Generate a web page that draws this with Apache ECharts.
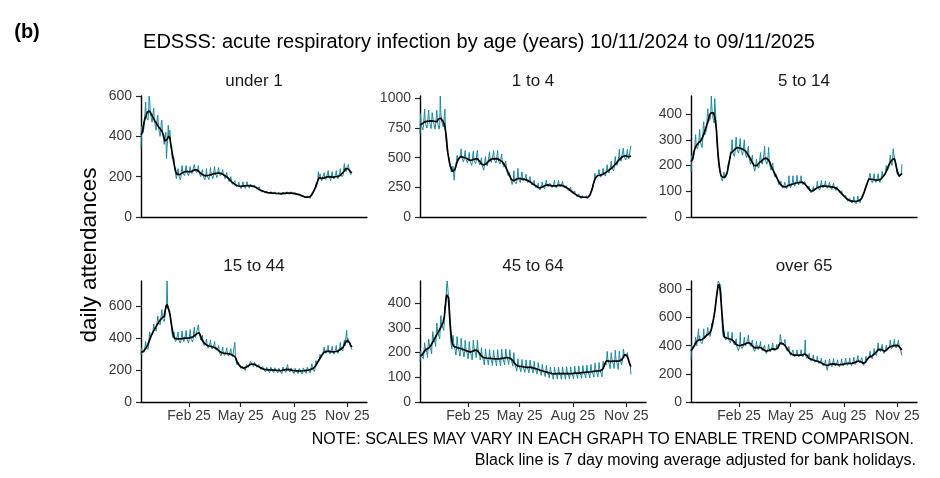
<!DOCTYPE html>
<html><head><meta charset="utf-8">
<script src="https://cdn.jsdelivr.net/npm/echarts@6/dist/echarts.min.js"></script>
<style>html,body{margin:0;padding:0;background:#fff}#c{width:940px;height:478px}</style>
</head><body><div id="c"></div>
<script>
// ---- data (daily attendances, one value per day from 10/11/2024 to 09/11/2025) ----
const startDate = '2024-11-10';
const panelTitles = ['under 1', '1 to 4', '5 to 14', '15 to 44', '45 to 64', 'over 65'];

const under1 = [
340,450,425,415,430,440,470, 525,570,500,490,495,480,510, 600,575,520,500,490,470,485, 520,540,480,465,450,430,445,
490,505,450,430,415,400,420, 470,480,420,400,385,360,380, 400,420,290,350,380,455,400, 420,430,370,340,320,290,290,
300,290,250,225,205,190,195, 225,240,210,200,195,185,200, 240,255,225,215,210,205,215, 245,255,230,220,215,205,215,
240,250,225,220,215,210,220, 250,260,240,230,225,220,230, 240,255,225,215,210,200,205, 225,235,210,200,195,185,195,
215,240,205,200,195,185,200, 220,245,210,205,200,190,205, 230,250,215,210,205,195,210, 230,245,220,215,205,200,210,
225,235,210,205,200,190,200, 210,220,195,190,185,175,180, 190,200,175,168,162,155,160, 170,180,160,155,150,145,150,
160,172,152,148,145,140,145, 162,175,155,150,146,142,148, 165,175,157,152,148,143,150, 163,172,155,150,146,141,148,
158,165,148,143,138,133,138, 142,150,135,131,128,123,128, 133,140,126,123,120,115,118, 127,134,121,118,115,111,116,
126,133,120,116,113,109,115, 124,131,118,114,111,107,112, 122,130,116,113,110,106,112, 124,132,118,115,112,108,114,
125,134,120,116,113,109,115, 125,133,119,115,112,108,114, 121,128,115,111,108,104,109, 115,122,108,105,102,98,102,
106,112,100,97,94,90,94, 105,110,99,96,94,92,98, 110,120,112,118,125,132,140, 150,160,150,160,170,225,190,
205,215,190,185,180,175,185, 210,220,195,190,185,180,190, 215,230,200,195,190,180,190, 212,225,198,192,188,180,190,
215,230,200,195,190,182,192, 220,240,210,205,200,195,210, 245,265,235,230,225,230,250, 250,260,235,225,218,210,218,
225];

const age1to4 = [
700,870,780,760,750,735,770, 840,910,810,780,770,750,780, 850,900,815,790,775,745,790, 880,880,810,785,770,740,785,
840,900,810,780,765,740,775, 1020,880,820,800,785,760,790, 850,910,730,650,600,560,540, 520,500,440,420,400,380,390,
410,430,370,310,380,400,440, 470,520,470,470,480,470,500, 545,575,510,490,480,465,485, 530,560,500,480,470,455,470,
510,545,480,460,450,435,455, 520,555,490,470,460,450,470, 530,560,500,470,455,440,450, 470,500,440,420,410,395,410,
480,510,450,435,430,420,440, 515,550,485,470,460,450,470, 525,560,495,475,465,455,475, 525,560,490,470,460,445,460,
500,530,465,445,435,420,435, 450,470,410,385,370,350,360, 375,390,335,310,295,275,285, 310,390,300,290,285,280,300,
345,410,330,310,300,290,305, 345,380,325,305,300,290,300, 335,360,315,300,290,280,290, 320,340,295,280,270,260,270,
290,310,270,255,248,238,245, 265,285,245,235,228,218,228, 275,295,260,250,245,238,250, 290,310,275,262,255,248,258,
285,300,268,255,248,240,250, 278,310,262,250,245,238,250, 285,310,272,260,255,245,258, 282,300,265,252,245,235,245,
265,280,245,232,225,215,222, 235,250,218,207,200,192,198, 210,220,192,183,177,170,175, 185,195,172,165,160,155,160,
180,190,168,162,158,152,158, 178,190,160,145,150,165,185, 195,215,215,230,245,260,285, 330,370,330,320,330,340,350,
370,400,355,340,335,325,340, 380,410,365,355,350,345,360, 405,440,390,380,370,365,385, 430,470,415,405,400,390,410,
470,510,455,440,435,425,445, 510,570,490,475,470,460,480, 560,580,520,500,490,480,500, 545,570,510,490,480,475,500,
600];

const age5to14 = [
175,240,220,225,230,235,250, 290,320,275,270,265,260,280, 310,340,295,285,280,270,290, 345,370,330,320,325,320,340,
390,420,370,365,375,380,400, 470,430,395,385,375,365,460, 420,380,330,290,250,220,200, 185,190,165,155,150,140,145,
160,175,150,148,145,150,165, 180,205,200,210,225,235,250, 270,300,255,245,240,235,255, 290,310,270,260,255,248,260,
285,305,265,255,250,240,255, 280,300,260,245,238,230,240, 260,275,235,222,215,205,215, 230,240,205,195,188,178,185,
205,225,200,195,195,190,205, 230,250,215,208,205,198,212, 245,275,228,218,212,205,220, 240,270,215,200,192,182,190,
200,210,180,170,163,155,160, 165,172,148,138,132,125,130, 132,140,122,116,112,106,110, 125,135,118,113,110,104,110,
130,160,125,118,114,110,118, 135,160,130,124,120,116,125, 140,162,133,128,124,120,130, 145,160,136,130,126,122,130,
138,145,125,118,114,108,112, 115,120,104,98,94,90,95, 105,118,104,102,102,100,108, 120,140,115,110,108,104,112,
128,142,121,116,113,108,116, 128,140,120,115,112,108,115, 126,135,118,114,111,106,113, 124,132,115,111,108,103,110,
118,122,106,100,96,90,94, 98,102,88,83,80,75,78, 80,84,72,68,65,61,64, 68,72,62,59,57,54,57,
65,80,60,56,54,51,55, 68,82,64,60,58,55,60, 72,82,78,82,88,95,105, 110,125,122,128,135,140,150,
160,170,150,142,138,132,140, 155,168,145,138,134,128,136, 155,168,145,138,134,130,138, 162,178,155,148,150,152,165,
180,200,180,180,185,190,205, 220,240,212,205,200,198,265, 245,250,220,210,200,180,165, 160,175,155,150,152,158,165,
205];

const age15to44 = [
295,340,312,305,300,298,315, 350,380,345,335,335,330,350, 400,440,410,400,405,405,425, 455,490,460,450,450,445,470,
505,540,500,490,490,485,510, 545,580,535,520,515,505,525, 560,610,590,760,610,580,580, 580,590,540,500,460,420,405,
420,440,395,385,380,370,385, 420,440,398,385,380,370,385, 420,445,400,388,380,372,390, 425,450,402,388,382,372,390,
430,455,405,392,386,376,395, 440,470,420,405,400,395,415, 470,485,445,430,410,390,395, 400,420,375,365,355,345,355,
375,395,355,345,338,328,340, 370,390,350,338,332,322,335, 360,380,340,330,325,315,328, 340,355,318,305,300,290,300,
325,345,308,298,292,285,295, 320,340,305,295,288,280,292, 318,335,300,290,284,276,285, 290,375,270,255,245,232,238,
250,258,228,218,212,205,210, 225,235,212,205,203,198,210, 235,245,225,218,218,215,230, 255,265,240,232,228,222,235,
250,258,232,222,218,210,218, 235,245,218,208,204,196,202, 222,232,206,198,194,188,196, 218,228,202,195,190,184,193,
218,228,202,195,190,184,193, 215,226,200,192,188,182,190, 212,224,197,190,185,178,188, 220,232,204,196,192,185,195,
222,235,206,198,194,188,197, 213,225,198,190,186,178,188, 212,224,196,189,184,178,187, 210,222,195,187,183,176,185,
214,226,198,190,186,180,188, 218,230,202,194,190,183,193, 225,240,210,202,198,192,205, 240,260,240,238,240,245,262,
275,300,280,278,282,285,305, 320,345,318,308,305,298,312, 335,355,320,308,302,295,308, 332,350,318,306,300,294,306,
335,355,320,310,305,296,308, 345,375,335,325,325,320,340, 365,390,352,345,350,450,370, 400,410,380,365,355,345,350,
330];

const age45to64 = [
165,205,195,185,185,180,175, 210,240,225,210,205,200,180, 225,255,235,222,218,210,195, 245,285,265,250,245,240,225,
275,320,295,280,275,265,255, 305,350,325,310,310,305,290, 330,390,380,420,470,490,460, 430,420,380,300,250,230,215,
220,270,240,225,215,205,190, 215,265,235,220,212,200,185, 212,258,230,215,208,198,182, 205,250,222,208,200,190,175,
200,245,218,202,195,185,170, 205,250,225,210,203,195,180, 208,250,222,205,195,185,170, 180,220,195,180,175,165,150,
178,215,192,178,172,163,150, 176,212,190,176,170,162,148, 174,210,188,174,168,160,146, 175,212,188,175,168,160,147,
176,213,190,176,170,162,150, 180,215,195,180,174,165,152, 178,212,190,175,168,158,145, 165,200,165,150,143,135,125,
145,175,155,145,140,133,122, 143,172,152,143,138,130,120, 140,170,150,140,135,128,118, 140,170,150,140,135,128,118,
135,165,145,135,130,123,113, 130,160,140,130,125,118,108, 125,152,135,125,120,113,103, 120,148,130,120,115,108,98,
116,142,126,116,111,104,92, 115,140,124,115,110,103,93, 115,142,125,115,110,103,92, 115,142,125,115,110,103,92,
116,143,125,115,110,102,93, 115,142,124,115,110,103,94, 118,145,127,117,112,105,95, 118,146,128,118,113,106,96,
120,148,130,120,115,108,98, 122,150,131,121,116,108,98, 124,152,133,123,118,110,100, 126,158,136,125,120,112,102,
127,160,137,126,121,112,102, 130,165,145,140,150,160,150, 165,205,178,165,158,150,135, 165,200,178,165,158,150,136,
166,210,178,165,158,148,132, 168,205,180,167,160,150,145, 180,215,195,185,190,195,185, 190,200,180,170,160,155,145,
112];

const over65 = [
300,400,380,370,380,385,390, 420,460,420,400,405,400,520, 440,470,430,420,425,415,430, 460,520,450,440,450,450,470,
500,530,480,470,470,465,485, 520,560,540,560,590,610,640, 660,720,730,780,830,860,850, 860,850,830,760,640,540,480,
460,500,460,450,440,430,445, 470,500,450,435,430,420,440, 460,495,440,425,415,405,420, 420,450,400,385,375,365,380,
410,495,395,385,380,375,395, 430,460,415,400,395,390,405, 445,475,425,410,405,395,410, 410,440,390,375,368,360,372,
400,430,390,378,372,365,380, 405,430,385,372,365,358,370, 375,405,360,350,345,338,350, 380,410,370,360,355,350,365,
395,420,380,368,362,355,368, 380,410,375,370,375,385,400, 480,460,420,405,400,395,410, 420,445,395,380,372,362,370,
370,395,352,340,332,322,330, 345,370,335,325,320,312,322, 345,370,335,325,320,312,322, 345,372,336,326,320,313,323,
345,440,330,318,310,302,310, 320,345,310,298,292,285,292, 310,335,300,288,282,275,282, 302,325,292,280,274,268,275,
290,312,278,265,258,250,256, 275,300,265,252,225,240,248, 280,305,272,262,258,250,260, 285,310,275,262,256,248,258,
278,300,268,256,250,243,252, 280,305,272,260,255,248,258, 288,312,278,265,260,252,262, 288,312,278,265,258,250,262,
290,318,284,272,268,262,275, 305,330,295,282,278,272,285, 290,315,280,266,260,253,262, 295,325,295,290,295,300,315,
335,360,325,315,312,308,322, 350,380,345,335,335,330,350, 385,420,375,365,362,358,375, 385,410,365,352,345,338,350,
375,405,370,365,368,365,385, 410,440,395,380,380,375,395, 420,445,400,388,385,380,395, 420,440,400,388,382,378,395,
330];

const yTickValues = [
  [0, 200, 400, 600], [0, 250, 500, 750, 1000], [0, 100, 200, 300, 400],
  [0, 200, 400, 600], [0, 100, 200, 300, 400], [0, 200, 400, 600, 800]
];
const xTickDates = ['2025-02-01', '2025-05-01', '2025-08-01', '2025-11-01'];
const xTickLabels = ['Feb 25', 'May 25', 'Aug 25', 'Nov 25'];
const xAxisEndDate = '2025-12-05';

// ---- build ----
const DAY = 86400000;
const t0 = Date.parse(startDate);
const dayOf = s => Math.round((Date.parse(s) - t0) / DAY);
const xTickDays = xTickDates.map(dayOf);
const xEnd = dayOf(xAxisEndDate);
const dailySeries = [under1, age1to4, age5to14, age15to44, age45to64, over65];

// 7 day (centred) moving average of the daily counts
function movingAverage(arr) {
  return arr.map((_, i) => {
    let s = 0, n = 0;
    for (let j = i - 3; j <= i + 3; j++) if (j >= 0 && j < arr.length) { s += arr[j]; n++; }
    return s / n;
  });
}

const FONT = '"Liberation Sans", Arial, Helvetica, sans-serif';
const TEAL = '#1b8a9c';
const lefts = [141, 420, 691], tops = [96, 281], W = 226, H = 121;

const grid = [], xAxis = [], yAxis = [], series = [], graphic = [];
dailySeries.forEach((daily, i) => {
  const col = i % 3, row = Math.floor(i / 3), bottom = row === 1;
  grid.push({ left: lefts[col], top: tops[row], width: W, height: H });
  xAxis.push({
    type: 'value', gridIndex: i, min: 0, max: xEnd,
    axisLine: { show: true, onZero: false, lineStyle: { color: '#000', width: 1.4 } },
    axisTick: { show: bottom, length: 5, customValues: xTickDays, lineStyle: { color: '#222', width: 1.2 } },
    axisLabel: { show: bottom, customValues: xTickDays, margin: 7, fontSize: 14, color: '#3a3a3a', fontFamily: FONT,
      formatter: v => xTickLabels[xTickDays.indexOf(Math.round(v))] || '' },
    splitLine: { show: false }
  });
  yAxis.push({
    type: 'value', gridIndex: i, min: 0, max: Math.max(...daily),
    axisLine: { show: true, lineStyle: { color: '#000', width: 1.4 } },
    axisTick: { show: true, length: 5, customValues: yTickValues[i], lineStyle: { color: '#222', width: 1.2 } },
    axisLabel: { customValues: yTickValues[i], margin: 9, fontSize: 14, color: '#3a3a3a', fontFamily: FONT,
      formatter: v => String(Math.round(v)) },
    splitLine: { show: false }
  });
  const ma = movingAverage(daily);
  series.push({ type: 'line', xAxisIndex: i, yAxisIndex: i, data: daily.map((v, d) => [d, v]),
    showSymbol: false, silent: true, lineStyle: { color: TEAL, width: 1 }, z: 2 });
  series.push({ type: 'line', xAxisIndex: i, yAxisIndex: i, data: ma.map((v, d) => [d, v]),
    showSymbol: false, silent: true, lineStyle: { color: '#000', width: 1.7 }, z: 3 });
  graphic.push({ type: 'text', x: lefts[col] + W / 2, y: tops[row] - 15,
    style: { text: panelTitles[i], font: '17px ' + FONT, fill: '#1a1a1a', textAlign: 'center', textVerticalAlign: 'middle' } });
});

graphic.push(
  { type: 'text', x: 27, y: 32, style: { text: '(b)', font: 'bold 20px ' + FONT, fill: '#000', textAlign: 'center', textVerticalAlign: 'middle' } },
  { type: 'text', x: 479, y: 42, style: { text: 'EDSSS: acute respiratory infection by age (years) 10/11/2024 to 09/11/2025', font: '20px ' + FONT, fill: '#000', textAlign: 'center', textVerticalAlign: 'middle' } },
  { type: 'text', x: 90, y: 255, rotation: Math.PI / 2, style: { text: 'daily attendances', font: '22.5px ' + FONT, fill: '#000', textAlign: 'center', textVerticalAlign: 'middle' } },
  { type: 'text', x: 914, y: 440, style: { text: 'NOTE: SCALES MAY VARY IN EACH GRAPH TO ENABLE TREND COMPARISON.', font: '16px ' + FONT, fill: '#000', textAlign: 'right', textVerticalAlign: 'middle' } },
  { type: 'text', x: 916, y: 461, style: { text: 'Black line is 7 day moving average adjusted for bank holidays.', font: '16px ' + FONT, fill: '#000', textAlign: 'right', textVerticalAlign: 'middle' } }
);

const chart = echarts.init(document.getElementById('c'), null, { renderer: 'canvas' });
chart.setOption({ animation: false, backgroundColor: '#fff', grid, xAxis, yAxis, series, graphic });
</script></body></html>
